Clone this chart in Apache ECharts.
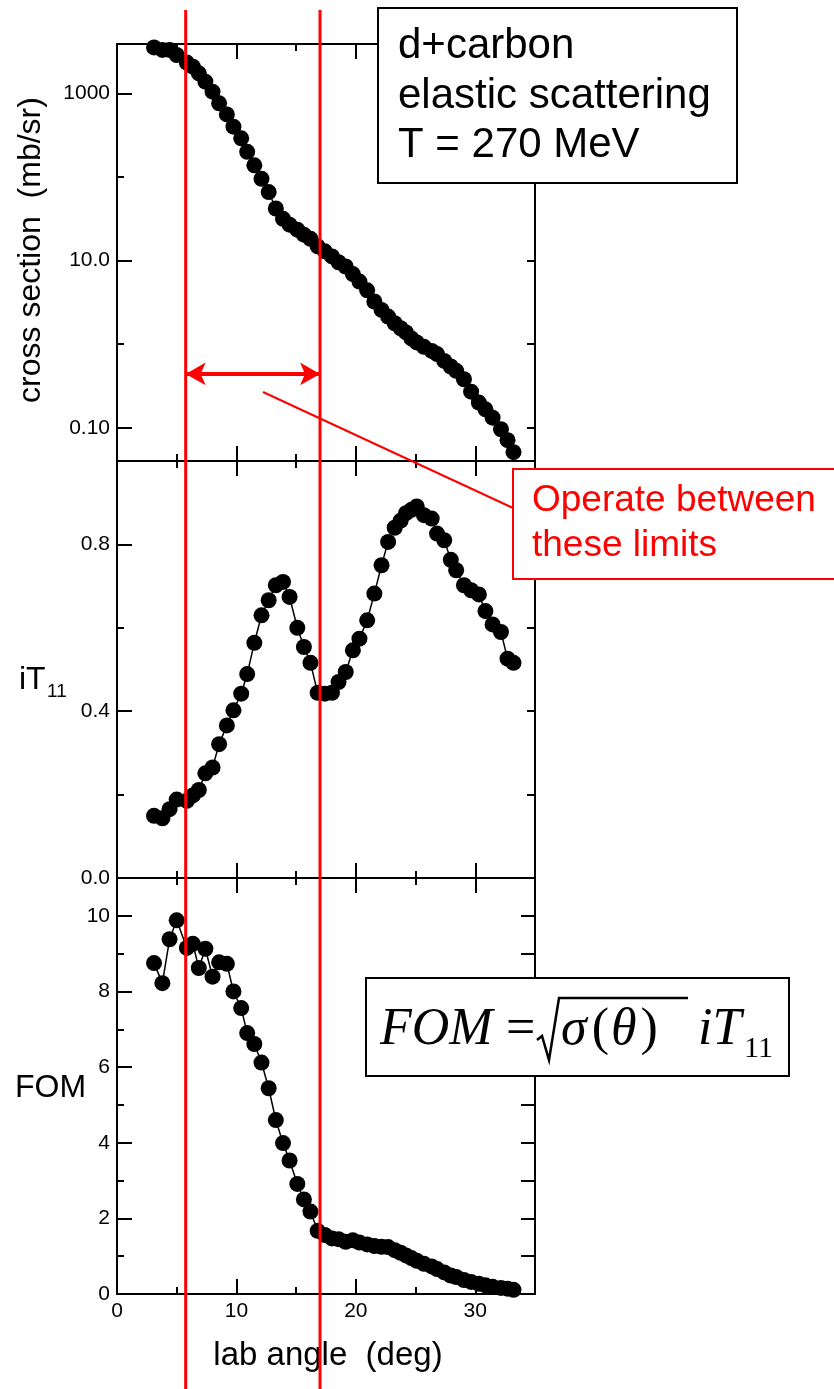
<!DOCTYPE html>
<html><head><meta charset="utf-8">
<script src="https://cdn.jsdelivr.net/npm/echarts@6/dist/echarts.min.js"></script>
<style>html,body{margin:0;padding:0;background:#fff}#c{width:834px;height:1389px}</style>
</head><body><div id="c"></div>
<script>
// ---- data ----
const angles = [3.1,3.8,4.4,5.0,5.85,6.35,6.85,7.4,8.0,8.55,9.2,9.75,10.4,10.9,11.5,12.1,12.7,13.3,13.9,14.45,15.1,15.65,16.2,16.8,17.4,18.0,18.55,19.15,19.75,20.3,20.95,21.55,22.15,22.7,23.25,23.75,24.2,24.65,25.1,25.7,26.35,26.8,27.4,27.95,28.4,29.05,29.65,30.3,30.85,31.45,32.15,32.7,33.2];
const crossSection = [3550,3310,3310,2880,2340,2090,1740,1380,1050,760,560,400,290,200,138,95,66,42,31.6,26.9,23.4,20.4,18.2,14.8,12.9,11.2,9.55,8.5,6.9,5.6,4.4,3.24,2.57,2.14,1.78,1.55,1.38,1.17,1.05,0.93,0.83,0.76,0.63,0.54,0.48,0.38,0.27,0.20,0.166,0.132,0.096,0.071,0.051];
const iT11 = [0.149,0.143,0.165,0.188,0.185,0.198,0.211,0.251,0.265,0.321,0.366,0.402,0.442,0.489,0.564,0.630,0.666,0.702,0.710,0.674,0.600,0.554,0.516,0.444,0.442,0.444,0.470,0.494,0.546,0.574,0.618,0.682,0.750,0.806,0.840,0.857,0.875,0.883,0.891,0.870,0.862,0.826,0.810,0.763,0.738,0.702,0.690,0.680,0.640,0.608,0.590,0.526,0.516];
const fom = [8.75,8.22,9.38,9.88,9.15,9.26,8.62,9.13,8.39,8.77,8.73,8.00,7.56,6.90,6.61,6.12,5.44,4.60,3.99,3.53,2.91,2.50,2.18,1.67,1.56,1.47,1.45,1.38,1.42,1.36,1.31,1.27,1.25,1.24,1.16,1.09,1.02,0.95,0.88,0.80,0.73,0.66,0.57,0.49,0.45,0.37,0.32,0.27,0.23,0.19,0.16,0.14,0.11];

const xMajorTicks = [0, 10, 20, 30];
const xMinorTicks = [5, 15, 25];
const csMajorTicks = [1000, 10, 0.1];
const csMajorText = ['1000', '10.0', '0.10'];
const csMinorTicks = [100, 1];
const csAllTicks = [1000, 100, 10, 1, 0.1];
const itMajorTicks = [0, 0.4, 0.8];
const itMajorText = ['0.0', '0.4', '0.8'];
const itMinorTicks = [0.2, 0.6];
const itRightTicks = [0.2, 0.4, 0.6, 0.8];
const fomMajorTicks = [0, 2, 4, 6, 8, 10];
const fomMinorTicks = [1, 3, 5, 7, 9];
const fomRightTicks = [1, 2, 3, 4, 5, 6, 7, 8, 9, 10];
const limits = [5.75, 17.0];
const arrowLevel = 0.44;

// ---- styling ----
const FONT = '"Liberation Sans", Arial, sans-serif';
const SERIF = '"Liberation Serif", "Times New Roman", serif';
const BLACK = '#000';
const RED = '#ff0000';

const grids = [
  {left: 117, top: 44, width: 418, height: 417},
  {left: 117, top: 461, width: 418, height: 417},
  {left: 117, top: 878, width: 418, height: 416}
];

function xAx(g, pos, ticks, len, showLine, labels) {
  return {
    type: 'value', gridIndex: g, position: pos, min: 0, max: 35,
    axisLine: {show: showLine, onZero: false, lineStyle: {color: BLACK, width: 2}},
    axisTick: {show: true, inside: true, length: len, customValues: ticks, lineStyle: {color: BLACK, width: 2}},
    axisLabel: labels ? {show: true, customValues: labels, margin: 7, color: BLACK, fontSize: 21, fontFamily: FONT} : {show: false},
    splitLine: {show: false}
  };
}
function yAx(g, pos, type, min, max, ticks, len, showLine, labels, texts) {
  const a = {
    type: type, gridIndex: g, position: pos, min: min, max: max,
    axisLine: {show: showLine, onZero: false, lineStyle: {color: BLACK, width: 2}},
    axisTick: {show: true, inside: true, length: len, customValues: ticks, lineStyle: {color: BLACK, width: 2}},
    axisLabel: {show: false},
    splitLine: {show: false}
  };
  if (type === 'log') a.logBase = 10;
  if (labels) {
    a.axisLabel = {show: true, customValues: labels, margin: 7, color: BLACK, fontSize: 21, fontFamily: FONT,
      formatter: function (v) {
        let best = 0;
        for (let i = 0; i < labels.length; i++) {
          if (Math.abs(labels[i] - v) < Math.abs(labels[best] - v)) best = i;
        }
        return texts[best];
      }};
  }
  return a;
}

const xAxes = [];
const yAxes = [];
for (let g = 0; g < 3; g++) {
  xAxes.push(xAx(g, 'bottom', xMajorTicks.slice(1), 15, true, g === 2 ? xMajorTicks : null));
  xAxes.push(xAx(g, 'bottom', xMinorTicks, 7, false, null));
  xAxes.push(xAx(g, 'top', xMajorTicks.slice(1), 15, true, null));
  xAxes.push(xAx(g, 'top', xMinorTicks, 7, false, null));
}
// panel 1 (log cross section)
yAxes.push(yAx(0, 'left', 'log', 0.04, 3900, csMajorTicks, 15, true, csMajorTicks, csMajorText));
yAxes.push(yAx(0, 'left', 'log', 0.04, 3900, csMinorTicks, 7, false, null));
yAxes.push(yAx(0, 'right', 'log', 0.04, 3900, csAllTicks, 8, true, null));
yAxes.push(yAx(0, 'right', 'log', 0.04, 3900, [], 8, false, null));
// panel 2 (iT11)
yAxes.push(yAx(1, 'left', 'value', 0, 1, itMajorTicks, 15, true, itMajorTicks, itMajorText));
yAxes.push(yAx(1, 'left', 'value', 0, 1, itMinorTicks, 7, false, null));
yAxes.push(yAx(1, 'right', 'value', 0, 1, itRightTicks, 8, true, null));
yAxes.push(yAx(1, 'right', 'value', 0, 1, [], 8, false, null));
// panel 3 (FOM)
yAxes.push(yAx(2, 'left', 'value', 0, 11, fomMajorTicks, 15, true, fomMajorTicks, fomMajorTicks.map(String)));
yAxes.push(yAx(2, 'left', 'value', 0, 11, fomMinorTicks, 7, false, null));
yAxes.push(yAx(2, 'right', 'value', 0, 11, fomRightTicks, 14, true, null));
yAxes.push(yAx(2, 'right', 'value', 0, 11, [], 8, false, null));

function pairs(ys) { return angles.map((a, i) => [a, ys[i]]); }
function ser(g, ys, extra) {
  return Object.assign({
    type: 'line', xAxisIndex: 4 * g, yAxisIndex: 4 * g, data: pairs(ys),
    symbol: 'circle', symbolSize: 16, showAllSymbol: true,
    itemStyle: {color: BLACK}, lineStyle: {color: BLACK, width: 1.5},
    silent: true, z: 5
  }, extra || {});
}

const option = {
  animation: false,
  backgroundColor: '#fff',
  grid: grids,
  xAxis: xAxes,
  yAxis: yAxes,
  series: [
    ser(0, crossSection, {
      markLine: {
        silent: true, symbol: ['arrow', 'arrow'], symbolSize: [17, 20], precision: 4,
        label: {show: false},
        lineStyle: {color: RED, width: 4, type: 'solid'},
        data: [[{coord: [limits[0], arrowLevel]}, {coord: [limits[1], arrowLevel]}]]
      }
    }),
    ser(1, iT11),
    ser(2, fom)
  ]
};

const chart = echarts.init(document.getElementById('c'), null, {renderer: 'canvas'});
chart.setOption(option);

const xl0 = chart.convertToPixel({xAxisIndex: 0}, limits[0]);
const xl1 = chart.convertToPixel({xAxisIndex: 0}, limits[1]);

const graphics = [
  // info box
  {type: 'rect', z: 100, shape: {x: 378, y: 8, width: 359, height: 175}, style: {fill: '#fff', stroke: BLACK, lineWidth: 2}},
  {type: 'text', z: 101, x: 398, y: 22, style: {text: 'd+carbon\nelastic scattering\nT = 270 MeV', font: '42px ' + FONT, fill: BLACK, lineHeight: 49.5, verticalAlign: 'top'}},
  // red annotation
  {type: 'line', z: 100, shape: {x1: 263, y1: 392, x2: 513, y2: 508}, style: {stroke: RED, lineWidth: 2}},
  {type: 'rect', z: 100, shape: {x: 513, y: 469, width: 330, height: 110}, style: {fill: '#fff', stroke: RED, lineWidth: 2}},
  {type: 'text', z: 101, x: 532, y: 478, style: {text: 'Operate between\nthese limits', font: '37px ' + FONT, fill: RED, lineHeight: 45, verticalAlign: 'top'}},
  // limit lines
  {type: 'line', z: 110, shape: {x1: xl0, y1: 10, x2: xl0, y2: 1389}, style: {stroke: RED, lineWidth: 3}},
  {type: 'line', z: 110, shape: {x1: xl1, y1: 10, x2: xl1, y2: 1389}, style: {stroke: RED, lineWidth: 3}},
  // formula box
  {type: 'rect', z: 100, shape: {x: 366, y: 978, width: 423, height: 98}, style: {fill: '#fff', stroke: BLACK, lineWidth: 2}},
  {type: 'text', z: 101, x: 380, y: 1030, style: {text: 'FOM', font: 'italic 52px ' + SERIF, fill: BLACK, verticalAlign: 'middle'}},
  {type: 'text', z: 101, x: 506, y: 1030, style: {text: '=', font: '52px ' + SERIF, fill: BLACK, verticalAlign: 'middle'}},
  {type: 'polyline', z: 101, shape: {points: [[537, 1040], [542, 1036], [549, 1060], [559, 998], [688, 998]]}, style: {stroke: BLACK, lineWidth: 2.5, fill: null}},
  {type: 'text', z: 101, x: 561, y: 1030, style: {
    text: '{s|σ}{u|(}{t|θ}{u|)}', fill: BLACK, verticalAlign: 'middle',
    rich: {
      s: {font: 'italic 52px ' + SERIF, fill: BLACK, padding: [0, 5, 0, 0]},
      t: {font: 'italic 52px ' + SERIF, fill: BLACK, padding: [0, 4, 0, 2]},
      u: {font: '52px ' + SERIF, fill: BLACK}
    }}},
  {type: 'text', z: 101, x: 698, y: 1030, style: {text: 'iT', font: 'italic 52px ' + SERIF, fill: BLACK, verticalAlign: 'middle'}},
  {type: 'text', z: 101, x: 744, y: 1049, style: {text: '11', font: '30px ' + SERIF, fill: BLACK, verticalAlign: 'middle'}},
  // axis titles
  {type: 'text', z: 101, x: 31, y: 250, rotation: Math.PI / 2, style: {text: 'cross section  (mb/sr)', font: '32px ' + FONT, fill: BLACK, align: 'center', verticalAlign: 'middle'}},
  {type: 'text', z: 101, x: 19, y: 680, style: {text: 'iT', font: '32px ' + FONT, fill: BLACK, verticalAlign: 'middle'}},
  {type: 'text', z: 101, x: 47, y: 692, style: {text: '11', font: '19px ' + FONT, fill: BLACK, verticalAlign: 'middle'}},
  {type: 'text', z: 101, x: 15, y: 1088, style: {text: 'FOM', font: '32px ' + FONT, fill: BLACK, verticalAlign: 'middle'}},
  {type: 'text', z: 101, x: 328, y: 1356, style: {text: 'lab angle  (deg)', font: '33px ' + FONT, fill: BLACK, align: 'center', verticalAlign: 'middle'}}
];
chart.setOption({graphic: graphics});
</script>
</body></html>
